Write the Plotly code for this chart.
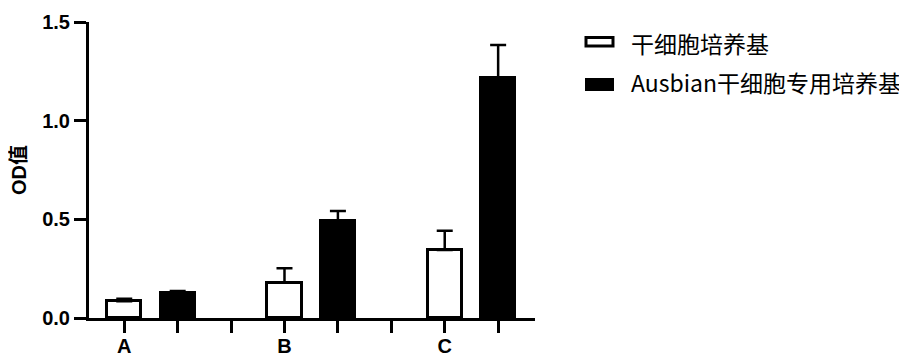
import plotly.graph_objects as go

groups = ["A", "B", "C"]
series_names = ["干细胞培养基", "Ausbian干细胞专用培养基"]
white_vals = [0.085, 0.179, 0.345]
white_err = [0.013, 0.073, 0.097]
black_vals = [0.127, 0.490, 1.218]
black_err = [0.010, 0.052, 0.166]
y_ticks = [0.0, 0.5, 1.0, 1.5]

# slot positions: each group occupies two bar slots + one gap slot
white_x = [3 * i for i in range(len(groups))]
black_x = [3 * i + 1 for i in range(len(groups))]
tick_pos = list(range(3 * len(groups) - 1))
tick_text = [groups[p // 3] if p % 3 == 0 else "" for p in tick_pos]

# page has an 8px body margin; size the figure so it fills the window exactly
OFF = 8
W, H = 907 - OFF, 358 - OFF
L, T = 89 - OFF, 22 - OFF
R = W - (535 - OFF)
B = H - (318 - OFF)
pw, ph = W - L - R, H - T - B

def px(x):  # page pixel -> paper x
    return (x - OFF - L) / pw

def py(y):  # page pixel -> paper y
    return (H - B - (y - OFF)) / ph

fig = go.Figure()
fig.add_trace(go.Bar(
    x=white_x, y=white_vals, width=0.64, name=series_names[0],
    marker=dict(color="white", line=dict(color="black", width=3)),
    error_y=dict(type="data", symmetric=False, array=white_err,
                 arrayminus=[0] * len(white_err), color="black",
                 thickness=2.5, width=8),
    showlegend=False,
))
fig.add_trace(go.Bar(
    x=black_x, y=black_vals, width=0.64, name=series_names[1],
    marker=dict(color="black", line=dict(color="black", width=3)),
    error_y=dict(type="data", symmetric=False, array=black_err,
                 arrayminus=[0] * len(black_err), color="black",
                 thickness=2.5, width=8),
    showlegend=False,
))

tickfont = dict(family="Liberation Sans", size=20, color="black", weight="bold")
fig.update_layout(
    width=W, height=H,
    margin=dict(l=L, r=R, t=T, b=B, pad=0, autoexpand=False),
    plot_bgcolor="white", paper_bgcolor="white",
    bargap=0,
    xaxis=dict(
        range=[-0.66, 7.69], tickmode="array", tickvals=tick_pos, ticktext=tick_text,
        showline=True, linecolor="black", linewidth=3, mirror=False,
        ticks="outside", ticklen=12, tickwidth=3, tickcolor="black",
        showgrid=False, zeroline=False, tickfont=tickfont, automargin=False,
        ticklabelstandoff=-4,
    ),
    yaxis=dict(
        range=[0, 1.5], tickmode="array", tickvals=y_ticks, tickformat=".1f",
        showline=True, linecolor="black", linewidth=3,
        ticks="outside", ticklen=12, tickwidth=3, tickcolor="black",
        showgrid=False, zeroline=False, tickfont=tickfont, automargin=False,
        title=dict(text="OD值", standoff=14,
                   font=dict(family="Liberation Sans, Noto Sans CJK SC", size=20,
                             color="black", weight="bold")),
    ),
    font=dict(family="Liberation Sans", color="black"),
)

# legend drawn manually to match the wide rectangular swatches
legend_font = dict(family="Noto Sans CJK SC", size=23, color="black")
fig.add_shape(type="rect", xref="paper", yref="paper",
              x0=px(586), x1=px(613), y0=py(46), y1=py(37.5),
              line=dict(color="black", width=3), fillcolor="white")
fig.add_shape(type="rect", xref="paper", yref="paper",
              x0=px(585), x1=px(614), y0=py(91), y1=py(78),
              line=dict(color="black", width=0), fillcolor="black")
fig.add_annotation(xref="paper", yref="paper", x=px(629), y=py(43),
                   xanchor="left", yanchor="middle", text=series_names[0],
                   showarrow=False, font=legend_font)
fig.add_annotation(xref="paper", yref="paper", x=px(629), y=py(82),
                   xanchor="left", yanchor="middle", text=series_names[1],
                   showarrow=False, font=legend_font)

fig.write_html("out.html")
